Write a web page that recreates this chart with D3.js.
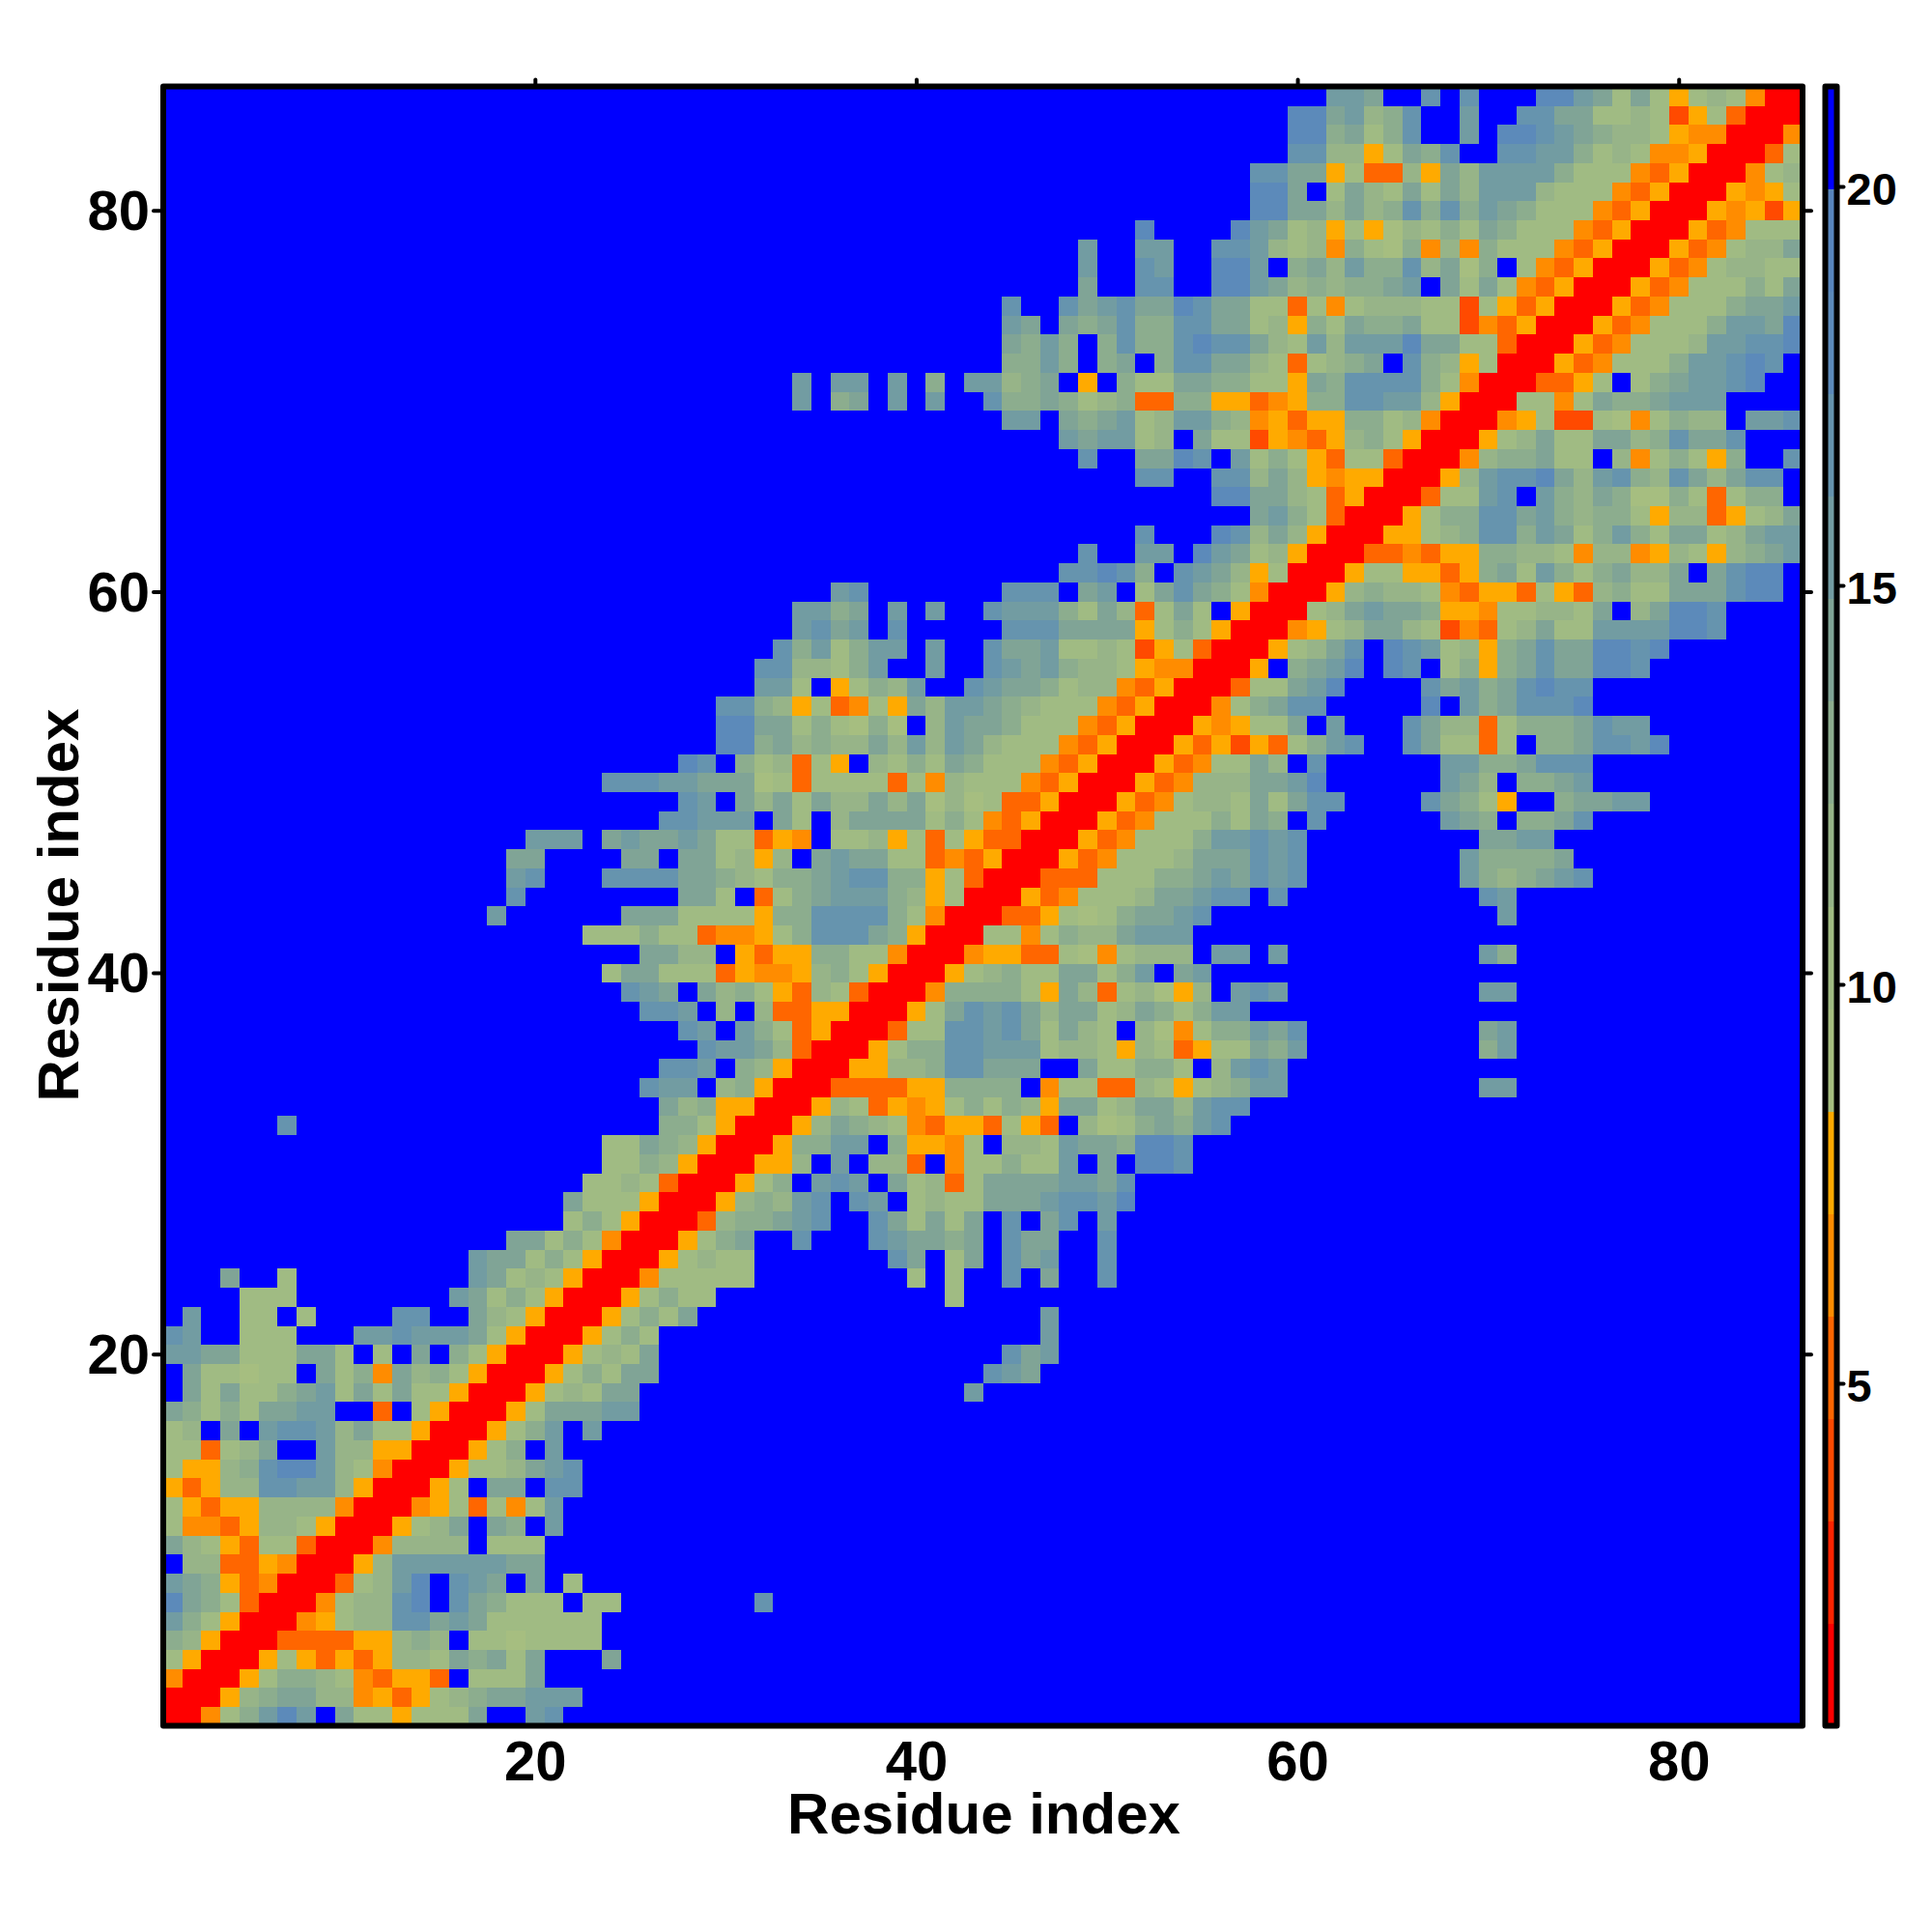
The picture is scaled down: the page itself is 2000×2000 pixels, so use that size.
<!DOCTYPE html>
<html>
<head>
<meta charset="utf-8">
<script src="https://cdn.jsdelivr.net/npm/d3@7/dist/d3.min.js"></script>
<style>
html,body{margin:0;padding:0;background:#fff}
svg{display:block}
text{font-family:"Liberation Sans",Arial,sans-serif;font-weight:bold;fill:#000}
</style>
</head>
<body>
<svg id="chart" width="2000" height="2000"></svg>
<script>
// Upper half of the symmetric map. Each string starts at the diagonal cell of its row.
// Code = colour level; cells past the end of a string are level ".".
const halfRows = [
"RRE24686.522F2225..67",
"RRF345533EFDF23455666",
"RRF24432EDFFD.2225",
"RRF2FDFDF33254525...5",
"RRDDDDFF343.2212222",
"RREF23377565222222",
"RRE23378.754222.22.......7",
"RRD2368.765.5.2",
"RRF366666655",
"RRE3333.222",
"RRF235.54.6",
"RREF2D2E26",
"RRF2.55.77",
"RRF223567",
"RRF24.6",
"RRF246.6",
"RRF255566",
"RRF23255.................6",
"RRF24255.................765",
"RRF2325..................756",
"RRF242....................6",
"RRF2425..................6",
"RRF2422............2",
"RRE22222........2.2..7.5..7",
"RRF2322.......75.25.756..7",
"RRF245..7...765545.755..7",
"RRD344567..752525.7.57.6",
"RRF34367.76.232255567768",
"RRF24.676.523D255556657",
"RRFF3.6.33D.E224226.5.887",
"RRF4466.4FFE2.3326554887",
"RRF35432EDFFD2FD.31245467",
"RRF32DFEF24243F5523553677",
"RRDDDDFF4444.E22DD32F23466..........66",
"RRFF33477555..522442.3676",
"RRF244776662332F32DF22546.........46",
"RRD22776752532.31E244657.........56",
"RRF25767535523542466",
"RRE44442F53D231F3.676..........66",
"RRF2342255246.56",
"RREFFDD21E2333.66.6..........64",
"RR22E24335666",
"RRDDF21245567...............6",
"RRFDE222355677.7..........76",
"RRDDD22244565767........6434567",
"RRFDE2223555767........644445",
"RRFDE222466767.........5566",
"RRFDE2224254.7......654.4457",
"RRFDE233252577....7542F..45566",
"RRFDE3335568......653.4456",
"RRFDE2253.7......66445777",
"RRFDFCFD2467..7522D2.4457768",
"RRFEF225.6...7533D24445766",
"RRE24577.....8.6457778",
"RRD22568....756457877",
"RRF.4568.87.24F45755887",
"RRF2357.87623F457558878",
"RREF235532CED235226666887",
"RR2356554FFE223325.35887",
"RRF34332EDFFD2FD3422555788",
"RRF22FFDF45264245335.5788",
"RRDDEDFF44332E33EF32F3456",
"RRFF23477465246425523566",
"RRF244775643442F33DF235",
"RRD2267.643541142D244.",
"RRF36778536743753577.",
"RRE344522.3E242F4..7",
"RRF2352255347557...",
"RREF2CC21E2433.667",
"RR22E25445666",
"RRDDF2.2456678",
"RRFDE222466787",
"RRFDE222366778",
"RRFDE22246658",
"RRFDE2224556",
"RRFDE222425",
"RRFDE23322",
"RRFDE2335",
"RRFDE222",
"RRFEFCF",
"RRFEF2",
"RRE23",
"RRD2",
"RRE",
"RR",
"R"
];
const levelCodes = "RrCDEF123456789.";
const levelColors = ["#ff0000","#ff2400","#ff4a00","#ff6600","#ff8c00","#ffaa00",
  "#a6be80","#a0bb83","#97b488","#8cad8e","#80a496","#729ca2","#6694ae","#5c8aba","#5886bd","#0000ff"];
const valueMin = 0.708, valueMax = 21.25;
const residues = d3.range(1, 87);
const axisTicks = [20, 40, 60, 80];
const barTicks = [5, 10, 15, 20];
const axisTitle = "Residue index";

const L = 169, R = 1866, T = 89.5, B = 1786.5;
const svg = d3.select("#chart");

const step = (valueMax - valueMin) / levelColors.length;
const thresholds = d3.range(1, levelColors.length).map(k => valueMin + k * step);
const color = d3.scaleThreshold().domain(thresholds).range(levelColors);
const valueOf = c => valueMin + (levelCodes.indexOf(c) + 0.5) * step;

const cells = [];
halfRows.forEach((s, i) => {
  residues.forEach(col => {
    if (col < i + 1) return;
    const c = s[col - i - 1] || ".";
    const v = valueOf(c);
    cells.push({x: col, y: i + 1, v});
    if (col !== i + 1) cells.push({x: i + 1, y: col, v});
  });
});

const bx = d3.scaleBand().domain(residues).range([L, R]);
const by = d3.scaleBand().domain(residues).range([B, T]);
const ax = d3.scaleLinear().domain([0.5, 86.5]).range([L, R]);
const ay = d3.scaleLinear().domain([0.5, 86.5]).range([B, T]);

svg.append("g").attr("shape-rendering", "crispEdges").selectAll("rect").data(cells).join("rect")
  .attr("x", d => bx(d.x)).attr("y", d => by(d.y))
  .attr("width", bx.bandwidth() + 0.4).attr("height", by.bandwidth() + 0.4)
  .attr("fill", d => color(d.v));

function styleAxis(g, size) {
  g.select(".domain").remove();
  g.selectAll(".tick line").attr("stroke", "#000").attr("stroke-width", 4).attr("stroke-linecap", "round");
  g.selectAll(".tick text").style("font-size", size + "px");
}
const left = svg.append("g").attr("transform", `translate(${L},0)`)
  .call(d3.axisLeft(ay).tickValues(axisTicks).tickSize(10).tickPadding(4));
styleAxis(left, 58);
left.selectAll(".tick text").attr("dy", "0.34em");
const right = svg.append("g").attr("transform", `translate(${R},0)`)
  .call(d3.axisRight(ay).tickValues(axisTicks).tickSize(9).tickFormat(""));
styleAxis(right, 58);
const top_ = svg.append("g").attr("transform", `translate(0,${T})`)
  .call(d3.axisTop(ax).tickValues(axisTicks).tickSize(7).tickFormat(""));
styleAxis(top_, 58);
const bottom = svg.append("g").attr("transform", `translate(0,${B})`)
  .call(d3.axisBottom(ax).tickValues(axisTicks).tickSize(0).tickPadding(15));
styleAxis(bottom, 58);

svg.append("rect").attr("x", L).attr("y", T).attr("width", R - L).attr("height", B - T)
  .attr("fill", "none").attr("stroke", "#000").attr("stroke-width", 6).attr("stroke-linejoin", "round");

svg.append("text").attr("x", (L + R) / 2 + 1).attr("y", 1898).attr("text-anchor", "middle")
  .style("font-size", "60px").text(axisTitle);
svg.append("text").attr("transform", "translate(81,937) rotate(-90)").attr("text-anchor", "middle")
  .style("font-size", "60px").text(axisTitle);

// Colour bar
const barL = 1889.5, barR = 1901.5;
const barY = d3.scaleLinear().domain([valueMin, valueMax]).range([B, T]);
const barScale = d3.scaleLinear().domain([20 - (B - 193) / 82.6, 20 + (193 - T) / 82.6]).range([B, T]);
svg.append("g").attr("shape-rendering", "crispEdges").selectAll("rect")
  .data(levelColors).join("rect")
  .attr("x", barL).attr("width", barR - barL)
  .attr("y", (d, i) => barY(valueMin + (i + 1) * step))
  .attr("height", (d, i) => barY(valueMin + i * step) - barY(valueMin + (i + 1) * step) + 0.5)
  .attr("fill", d => d);
svg.append("rect").attr("x", barL).attr("y", T).attr("width", barR - barL).attr("height", B - T)
  .attr("fill", "none").attr("stroke", "#000").attr("stroke-width", 6).attr("stroke-linejoin", "round");
const barAxis = svg.append("g").attr("transform", `translate(${barR},0)`)
  .call(d3.axisRight(barScale).tickValues(barTicks).tickSize(7).tickPadding(3));
styleAxis(barAxis, 47);
barAxis.selectAll(".tick text").attr("dy", "0.4em");
</script>
</body>
</html>
